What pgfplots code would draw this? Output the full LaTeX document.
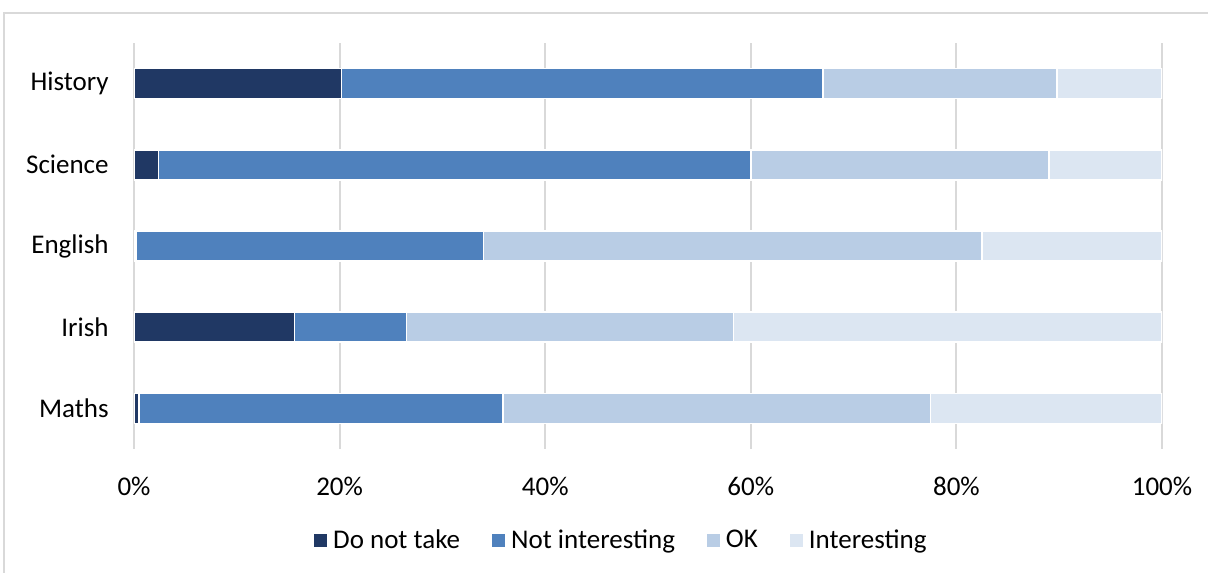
\documentclass[border=0pt]{standalone}
\usepackage{pgfplots}
\pgfplotsset{compat=1.18}
\usepackage{fontspec}
\setmainfont{Carlito}
\definecolor{cDNT}{HTML}{203864}
\definecolor{cNI}{HTML}{4F81BD}
\definecolor{cOK}{HTML}{B9CDE5}
\definecolor{cINT}{HTML}{DCE6F2}
\definecolor{cGrid}{HTML}{D9D9D9}
\begin{document}
\fontsize{13.5}{16}\selectfont
\begin{tikzpicture}
\path[use as bounding box] (0,0) rectangle (604pt,286pt);
\draw[cGrid, line width=0.8pt] (2pt,-2pt) -- (2pt,279.5pt) -- (606pt,279.5pt);
\begin{axis}[
  at={(67pt,61.5pt)}, anchor=south west,
  scale only axis,
  width=514pt, height=203pt,
  xbar stacked,
  bar width=0.37,
  xmin=0, xmax=100,
  ymin=-0.5, ymax=4.5,
  ytick={0,1,2,3,4},
  yticklabels={Maths,Irish,English,Science,History},
  xtick={0,20,40,60,80,100},
  xticklabels={0\%,20\%,40\%,60\%,80\%,100\%},
  axis line style={draw=none},
  major tick length=0pt,
  xmajorgrids,
  grid style={cGrid, line width=1pt},
  xticklabel style={yshift=-9.5pt},
  yticklabel style={xshift=-8pt},
  legend columns=-1,
  legend style={at={(0.476,-0.226)}, anchor=center, draw=none, fill=none,
    /tikz/every even column/.append style={column sep=13pt},
    nodes={inner xsep=3pt}},
  legend image code/.code={\fill[#1,draw=none] (0pt,-3.2pt) rectangle (6.5pt,3.3pt);},
  every axis plot/.append style={draw=white, line width=0.75pt},
]
\addplot[fill=cDNT] coordinates {(0.5,0) (15.6,1) (0.2,2) (2.4,3) (20.2,4)};
\addplot[fill=cNI] coordinates {(35.4,0) (10.9,1) (33.8,2) (57.6,3) (46.8,4)};
\addplot[fill=cOK] coordinates {(41.6,0) (31.8,1) (48.5,2) (29.0,3) (22.8,4)};
\addplot[fill=cINT] coordinates {(22.5,0) (41.7,1) (17.5,2) (11.0,3) (10.2,4)};
\legend{Do not take, Not interesting, OK, Interesting}
\end{axis}
\end{tikzpicture}
\end{document}
